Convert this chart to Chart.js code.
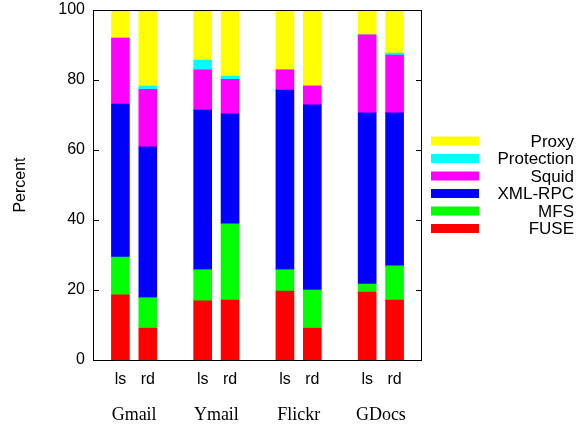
<!DOCTYPE html>
<html>
<head>
<meta charset="utf-8">
<script src="https://cdn.jsdelivr.net/npm/chart.js@4.4.1/dist/chart.umd.min.js"></script>
<style>
  html, body { margin: 0; padding: 0; background: #fff; }
</style>
</head>
<body>
<canvas id="chart" width="587" height="425"></canvas>
<script>
// values per bar, in order: Gmail ls, Gmail rd, Ymail ls, Ymail rd, Flickr ls, Flickr rd, GDocs ls, GDocs rd
const apps = ['Gmail', 'Ymail', 'Flickr', 'GDocs'];
const modes = ['ls', 'rd'];
const fuse = [18.6, 9.1, 16.9, 17.1, 19.7, 9.1, 19.4, 17.1];
const mfs = [10.8, 8.7, 8.9, 21.8, 6.1, 10.9, 2.3, 9.8];
const xmlrpc = [43.7, 43.1, 45.6, 31.4, 51.3, 52.9, 48.9, 43.7];
const squid = [18.9, 16.4, 11.5, 9.9, 5.8, 5.4, 22.3, 16.5];
const protection = [0, 1.0, 2.8, 0.9, 0, 0, 0, 0.6];
const proxy = [8.0, 21.7, 14.3, 18.9, 17.1, 21.7, 7.1, 12.3];
const yTicks = [0, 20, 40, 60, 80, 100];

const sans = "'Liberation Sans', Arial, sans-serif";
const serif = "'Liberation Serif', 'Times New Roman', serif";

// category slots: an empty slot before each group and one at the end
const labels = [''];
apps.forEach(() => { labels.push(...modes, ''); });

const spread = values => {
  const out = [null];
  for (let g = 0; g < apps.length; g++) {
    out.push(values[g * 2], values[g * 2 + 1], null);
  }
  return out;
};

const series = [
  { label: 'FUSE', values: fuse, color: '#ff0000' },
  { label: 'MFS', values: mfs, color: '#00ff00' },
  { label: 'XML-RPC', values: xmlrpc, color: '#0000ff' },
  { label: 'Squid', values: squid, color: '#ff00ff' },
  { label: 'Protection', values: protection, color: '#00ffff' },
  { label: 'Proxy', values: proxy, color: '#ffff00' },
];

const extras = {
  id: 'extras',
  afterDatasetsDraw(chart) {
    const { ctx, chartArea: a, scales: { x, y } } = chart;
    ctx.save();
    ctx.strokeStyle = '#000';
    ctx.lineWidth = 1;
    ctx.strokeRect(a.left + 0.5, a.top + 0.5, a.right - a.left - 1, a.bottom - a.top);
    // inward tick marks on both sides
    ctx.beginPath();
    yTicks.forEach(v => {
      const py = Math.round(y.getPixelForValue(v)) + 0.5;
      ctx.moveTo(a.left, py); ctx.lineTo(a.left + 6, py);
      ctx.moveTo(a.right - 6, py); ctx.lineTo(a.right, py);
    });
    ctx.stroke();

    // group names under ls/rd
    ctx.fillStyle = '#000';
    ctx.font = '18px ' + serif;
    ctx.textAlign = 'center';
    ctx.textBaseline = 'alphabetic';
    apps.forEach((name, g) => {
      const cx = (x.getPixelForValue(g * 3 + 1) + x.getPixelForValue(g * 3 + 2)) / 2;
      ctx.fillText(name, cx, 420);
    });

    // legend, top entry is the top of the stack
    ctx.font = '17px ' + sans;
    ctx.textAlign = 'right';
    ctx.textBaseline = 'middle';
    chart.data.datasets.slice().reverse().forEach((ds, i) => {
      const cy = 141 + i * 17.5;
      ctx.fillStyle = ds.backgroundColor;
      ctx.fillRect(431, cy - 4.5, 48, 9);
      ctx.fillStyle = '#000';
      ctx.fillText(ds.label, 574, cy + 1);
    });
    ctx.restore();
  }
};

new Chart(document.getElementById('chart'), {
  type: 'bar',
  data: {
    labels: labels,
    datasets: series.map(s => ({
      label: s.label,
      data: spread(s.values),
      backgroundColor: s.color,
      borderWidth: 0,
      barThickness: 18,
    })),
  },
  options: {
    responsive: false,
    animation: false,
    devicePixelRatio: 1,
    layout: { padding: { top: 10, right: 165, left: 0, bottom: 0 } },
    plugins: {
      legend: { display: false },
      tooltip: { enabled: false },
    },
    scales: {
      x: {
        stacked: true,
        offset: false,
        grid: { display: false },
        border: { display: false },
        ticks: {
          autoSkip: false,
          maxRotation: 0,
          padding: 2,
          color: '#000',
          font: { family: sans, size: 16 },
        },
        afterFit: s => { s.height = 65; s.paddingLeft = 0; s.paddingRight = 0; },
      },
      y: {
        stacked: true,
        min: 0,
        max: 100,
        grid: { display: false },
        border: { display: false },
        afterBuildTicks: s => { s.ticks = yTicks.map(v => ({ value: v })); },
        ticks: {
          padding: 0,
          color: '#000',
          font: { family: sans, size: 16 },
        },
        title: {
          display: true,
          text: 'Percent',
          color: '#000',
          font: { family: sans, size: 16 },
          padding: { top: 11, bottom: 4 },
        },
        afterFit: s => { s.width = 93; s.paddingTop = 0; s.paddingBottom = 0; },
      },
    },
  },
  plugins: [extras],
});
</script>
</body>
</html>
